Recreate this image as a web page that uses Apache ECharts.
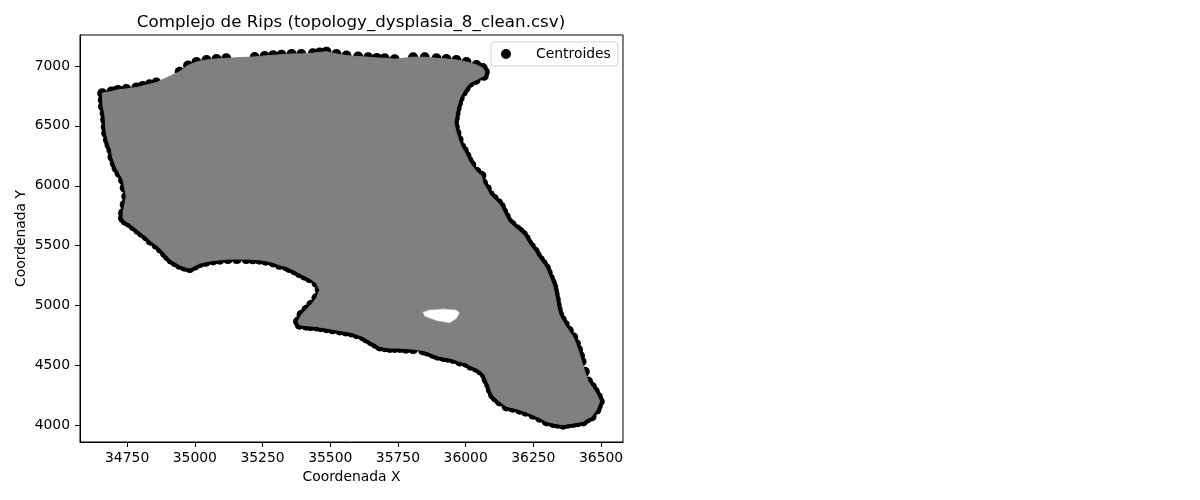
<!DOCTYPE html>
<html lang="es">
<head>
    <meta charset="UTF-8">
    <script src="https://cdn.jsdelivr.net/npm/echarts@6/dist/echarts.min.js"></script>
    <style>
        * { margin: 0; padding: 0; }
        body { background: #fff; }
        #chart { width: 1200px; height: 500px; }
    </style>
</head>
<body>
<div id="chart"></div>
<script>
    // centroides del borde, en orden alrededor de la forma
    var centroidX = [
        34658, 34692, 34716, 34747, 34784, 34807, 34833, 34858, 34944, 34975,
        35006, 35043, 35080, 35116, 35221, 35258, 35289, 35320, 35357, 35393,
        35436, 35461, 35486, 35523, 35560, 35603, 35640, 35672, 35701, 35738,
        35806, 35849, 35892, 35929, 35966, 36003, 36040, 36063, 36071, 36067,
        36037, 36015, 36000, 35990, 35978, 35972, 35967, 35963, 35960, 35957,
        35960, 35966, 35974, 35984, 35993, 36003, 36011, 36021, 36040, 36058,
        36064, 36078, 36089, 36104, 36120, 36130, 36138, 36148, 36157, 36170,
        36188, 36200, 36212, 36222, 36231, 36241, 36255, 36263, 36274, 36285,
        36296, 36303, 36311, 36318, 36323, 36326, 36329, 36333, 36336, 36340,
        36345, 36355, 36366, 36381, 36397, 36407, 36415, 36422, 36428, 36440,
        36452, 36466, 36477, 36488, 36495, 36488, 36483, 36465, 36447, 36434,
        36414, 36397, 36377, 36360, 36340, 36323, 36299,
        36274, 36249, 36222, 36200, 36174, 36151, 36126, 36111, 36101, 36093,
        36087, 36078, 36071, 36056, 36040, 36019, 36003, 35978, 35954, 35934,
        35917, 35897, 35880, 35860, 35843, 35806, 35779, 35757, 35738, 35720,
        35701, 35683, 35668, 35652, 35635, 35621, 35598, 35578, 35557, 35535,
        35509, 35486, 35465, 35449, 35428, 35412, 35387, 35381, 35394, 35412,
        35430, 35449, 35461, 35449, 35424, 35406, 35387, 35369, 35350, 35338,
        35313, 35289, 35262, 35239, 35214, 35190, 35155, 35122, 35092, 35067,
        35040, 35018, 34999, 34981, 34962, 34944, 34928, 34913, 34900, 34889,
        34874, 34858, 34837, 34821, 34804, 34790, 34774, 34759, 34744, 34735,
        34735, 34741, 34747, 34741, 34735, 34722, 34711, 34704, 34696, 34692,
        34685, 34679, 34673, 34671, 34669, 34667, 34661, 34660
    ];
    var centroidY = [
        6772, 6786, 6800, 6808, 6819, 6833, 6847, 6861, 6952, 7004,
        7033, 7050, 7058, 7064, 7075, 7083, 7089, 7094, 7100, 7100,
        7106, 7113, 7119, 7100, 7086, 7078, 7073, 7067, 7064, 7056,
        7073, 7073, 7064, 7058, 7050, 7033, 7008, 6983, 6950, 6917,
        6883, 6858, 6817, 6783, 6733, 6691, 6650, 6608, 6566, 6533,
        6491, 6441, 6383, 6324, 6291, 6249, 6208, 6174, 6116, 6083,
        6022, 5974, 5924, 5891, 5855, 5824, 5785, 5741, 5701, 5674,
        5638, 5616, 5591, 5557, 5521, 5490, 5451, 5415, 5382, 5349,
        5313, 5274, 5229, 5190, 5157, 5123, 5090, 5048, 5007, 4965,
        4923, 4882, 4840, 4790, 4736, 4681, 4631, 4581, 4534, 4448,
        4367, 4323, 4284, 4239, 4200, 4164, 4131, 4075, 4056, 4034,
        4027, 4020, 4014, 4006, 4014, 4020, 4033,
        4064, 4089, 4114, 4131, 4148, 4159, 4200, 4231, 4256, 4298,
        4340, 4381, 4423, 4456, 4479, 4498, 4521, 4534, 4554, 4565,
        4571, 4581, 4596, 4615, 4626, 4637, 4641, 4646, 4646, 4646,
        4652, 4659, 4681, 4701, 4723, 4742, 4761, 4776, 4784, 4792,
        4802, 4812, 4819, 4826, 4829, 4832, 4840, 4867, 4923, 4965,
        5007, 5063, 5132, 5188, 5229, 5249, 5271, 5294, 5313, 5326,
        5340, 5360, 5374, 5382, 5386, 5388, 5388, 5388, 5382, 5376,
        5365, 5354, 5332, 5313, 5324, 5340, 5361, 5382, 5411, 5438,
        5474, 5507, 5541, 5576, 5607, 5632, 5661, 5688, 5707, 5730,
        5772, 5841, 5910, 5983, 6049, 6105, 6149, 6189, 6241, 6299,
        6341, 6383, 6439, 6491, 6550, 6606, 6661, 6716
    ];
    // hueco del complejo
    var holeX = [35841, 35867, 35917, 35966, 35978, 35966, 35941, 35892, 35849];
    var holeY = [4946, 4965, 4973, 4965, 4938, 4890, 4854, 4873, 4909];

    var xTicks = [34750, 35000, 35250, 35500, 35750, 36000, 36250, 36500];
    var yTicks = [4000, 4500, 5000, 5500, 6000, 6500, 7000];

    var myChart = echarts.init(document.getElementById('chart'));

    var pts = [];
    for (var i = 0; i < centroidX.length; i++) {
        pts.push([centroidX[i], centroidY[i]]);
    }

    // el complejo se pinta encima de los centroides (bordes festoneados)
    function renderComplex(params, api) {
        var outer = [], hole = [];
        for (var i = 0; i < centroidX.length; i++) {
            outer.push(api.coord([centroidX[i], centroidY[i]]));
        }
        for (var j = 0; j < holeX.length; j++) {
            hole.push(api.coord([holeX[j], holeY[j]]));
        }
        return {
            type: 'group',
            children: [
                {
                    type: 'polygon',
                    shape: { points: outer },
                    style: { fill: '#808080', stroke: '#808080', lineWidth: 1 }
                },
                {
                    type: 'polygon',
                    shape: { points: hole },
                    style: { fill: '#ffffff', stroke: '#9a9a9a', lineWidth: 0.6 }
                }
            ]
        };
    }

    var axisFont = { color: '#000', fontSize: 13.9, fontFamily: 'DejaVu Sans' };

    var option = {
        animation: false,
        backgroundColor: '#fff',
        title: {
            text: 'Complejo de Rips (topology_dysplasia_8_clean.csv)',
            left: 346,
            textAlign: 'center',
            top: 9,
            textStyle: { color: '#000', fontSize: 16.7, fontWeight: 'normal', fontFamily: 'DejaVu Sans' }
        },
        legend: {
            data: ['Centroides'],
            left: 491,
            top: 42,
            orient: 'vertical',
            icon: 'circle',
            itemWidth: 20,
            itemHeight: 10,
            padding: [5, 7, 5, 10],
            borderColor: '#d0d0d0',
            borderWidth: 1,
            borderRadius: 3,
            textStyle: { color: '#000', fontSize: 13.9, fontFamily: 'DejaVu Sans', padding: [0, 0, 0, 15] }
        },
        grid: {
            left: 80,
            top: 35,
            width: 543,
            height: 407,
            show: true,
            borderColor: '#000',
            borderWidth: 1
        },
        xAxis: {
            type: 'value',
            min: 34576,
            max: 36581,
            name: 'Coordenada X',
            nameLocation: 'middle',
            nameGap: 28,
            nameTextStyle: axisFont,
            axisLine: { lineStyle: { color: '#000', width: 1 } },
            axisTick: { show: true, length: 5, lineStyle: { color: '#000' }, customValues: xTicks },
            axisLabel: Object.assign({ margin: 9, customValues: xTicks, formatter: function (v) { return String(v); } }, axisFont),
            splitLine: { show: false }
        },
        yAxis: {
            type: 'value',
            min: 3862,
            max: 7258,
            name: 'Coordenada Y',
            nameLocation: 'middle',
            nameGap: 52,
            nameTextStyle: axisFont,
            axisLine: { show: true, lineStyle: { color: '#000', width: 1 } },
            axisTick: { show: true, length: 5, lineStyle: { color: '#000' }, customValues: yTicks },
            axisLabel: Object.assign({ margin: 10, customValues: yTicks, formatter: function (v) { return String(v); } }, axisFont),
            splitLine: { show: false }
        },
        series: [
            {
                name: 'Centroides',
                type: 'scatter',
                symbol: 'circle',
                symbolSize: 10,
                itemStyle: { color: '#000', opacity: 1 },
                data: pts,
                z: 2
            },
            {
                name: 'Complejo',
                type: 'custom',
                coordinateSystem: 'cartesian2d',
                renderItem: renderComplex,
                data: [[centroidX[0], centroidY[0]]],
                clip: true,
                silent: true,
                z: 3
            }
        ]
    };

    myChart.setOption(option);
</script>
</body>
</html>
